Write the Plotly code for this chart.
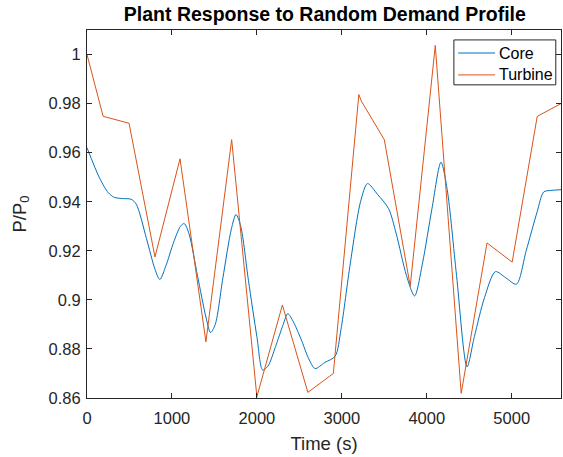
import plotly.graph_objects as go

# Turbine (piecewise linear)
turbine_t = [0, 190, 495, 800, 1095, 1400, 1703, 2000, 2300, 2600, 2900, 3200, 3230, 3500, 3805, 4100, 4405, 4709, 5005, 5300, 5580]
turbine_v = [1.000, 0.9748, 0.9720, 0.9175, 0.9575, 0.8829, 0.9653, 0.8605, 0.8979, 0.8623, 0.8700, 0.9837, 0.9810, 0.9653, 0.9056, 1.0037, 0.8619, 0.9232, 0.9154, 0.9748, 0.9800]

# Core (smooth response)
core_t = [0, 150, 250, 320, 420, 520, 580, 700, 800, 857, 930, 1020, 1100, 1144, 1200, 1300, 1400, 1455, 1510, 1600, 1700, 1754, 1810, 1900, 2000, 2068, 2130, 2220, 2310, 2363, 2430, 2520, 2610, 2685, 2800, 2921, 2990, 3100, 3220, 3302, 3420, 3550, 3640, 3760, 3856, 3950, 4060, 4167, 4240, 4350, 4474, 4560, 4680, 4808, 4930, 5055, 5170, 5300, 5377, 5460, 5580]
core_v = [0.9620, 0.9495, 0.9437, 0.9418, 0.9413, 0.9410, 0.9390, 0.9250, 0.9125, 0.9083, 0.9140, 0.9235, 0.9300, 0.9311, 0.9270, 0.9100, 0.8930, 0.8867, 0.8900, 0.9090, 0.9290, 0.9348, 0.9300, 0.9080, 0.8850, 0.8714, 0.8730, 0.8810, 0.8900, 0.8944, 0.8910, 0.8840, 0.8760, 0.8720, 0.8745, 0.8770, 0.8880, 0.9150, 0.9400, 0.9474, 0.9430, 0.9372, 0.9270, 0.9100, 0.9016, 0.9150, 0.9370, 0.9561, 0.9450, 0.9100, 0.8727, 0.8850, 0.9010, 0.9115, 0.9090, 0.9064, 0.9200, 0.9360, 0.9440, 0.9446, 0.9449]

series_names = ["Core", "Turbine"]
series_colors = ["#0072BD", "#D95319"]

x_ticks = [0, 1000, 2000, 3000, 4000, 5000]
y_ticks = [0.86, 0.88, 0.90, 0.92, 0.94, 0.96, 0.98, 1.00]
y_ticktext = ["0.86", "0.88", "0.9", "0.92", "0.94", "0.96", "0.98", "1"]

axis_col = "#262626"
font = "Liberation Sans, Arial, Helvetica, sans-serif"

fig = go.Figure()
fig.add_trace(go.Scatter(x=core_t, y=core_v, mode="lines", name=series_names[0],
                         line=dict(color=series_colors[0], width=1.0, shape="spline", smoothing=0.8)))
fig.add_trace(go.Scatter(x=turbine_t, y=turbine_v, mode="lines", name=series_names[1],
                         line=dict(color=series_colors[1], width=1.0)))

fig.update_layout(
    width=563, height=457,
    margin=dict(l=87, r=2, t=30, b=59),
    paper_bgcolor="white", plot_bgcolor="white",
    font=dict(family=font, color=axis_col, size=16),
    title=dict(text="<b>Plant Response to Random Demand Profile</b>", x=0.577, xanchor="center",
               y=0.968, yanchor="middle", font=dict(size=19.5, color="black")),
    showlegend=False,
)

# Legend box drawn MATLAB-style (compact)
fig.add_shape(type="rect", xref="x domain", yref="y domain", x0=0.774, x1=0.989, y0=0.851, y1=0.973,
              line=dict(color=axis_col, width=1), fillcolor="white", layer="above")
legend_y = [0.9375, 0.878]
for name, col, ly in zip(series_names, series_colors, legend_y):
    fig.add_shape(type="line", xref="x domain", yref="y domain", x0=0.783, x1=0.861, y0=ly, y1=ly,
                  line=dict(color=col, width=1.0), layer="above")
    fig.add_annotation(xref="x domain", yref="y domain", x=0.866, y=ly, text=name, showarrow=False,
                       xanchor="left", yanchor="middle", font=dict(size=16, color="black"))

fig.update_xaxes(range=[0, 5580], tickvals=x_ticks, ticks="inside", ticklen=5, tickcolor=axis_col,
                 showline=True, linecolor=axis_col, linewidth=1, mirror="ticks", showgrid=False,
                 zeroline=False, ticklabelstandoff=5,
                 title=dict(text="Time (s)", font=dict(size=18.5), standoff=11),
                 tickfont=dict(size=16.5))
fig.update_yaxes(range=[0.86, 1.01], tickvals=y_ticks, ticktext=y_ticktext, ticks="inside", ticklen=5,
                 tickcolor=axis_col, showline=True, linecolor=axis_col, linewidth=1, mirror="ticks",
                 showgrid=False, zeroline=False, ticklabelstandoff=2,
                 title=dict(text="P/P<sub>0</sub>", font=dict(size=18.5), standoff=17),
                 tickfont=dict(size=16.5))

fig.write_html("out.html")
